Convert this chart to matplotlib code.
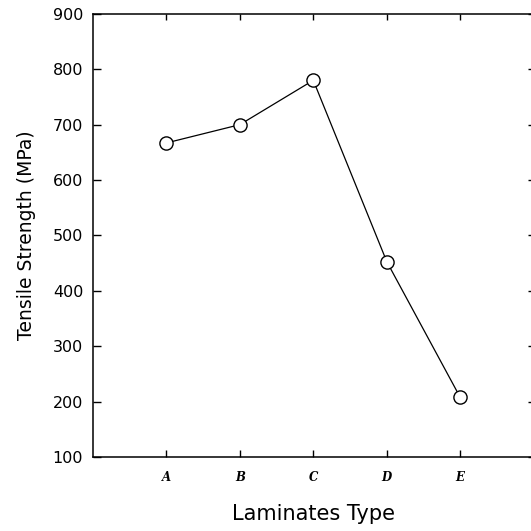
import matplotlib

matplotlib.use("Agg")
import matplotlib.pyplot as plt

# laminate types and measured tensile strength (MPa)
laminates = ["A", "B", "C", "D", "E"]
strength = [667, 700, 780, 453, 208]
yticks = [100, 200, 300, 400, 500, 600, 700, 800, 900]

plt.rcParams["font.family"] = ["DejaVu Sans"]

fig = plt.figure(figsize=(5.31, 5.31), dpi=100)
ax = fig.add_axes([0.175, 0.139, 0.83, 0.835])

xs = list(range(1, len(laminates) + 1))
ax.plot(xs, strength, color="black", lw=0.9, marker="o", ms=9.5,
        mfc="white", mec="black", mew=1.0, zorder=3)

ax.set_xlim(0, 6)
ax.set_ylim(100, 900)
ax.set_yticks(yticks)
ax.set_xticks(xs)
ax.set_xticklabels(laminates, family="DejaVu Serif", fontweight="bold",
                   fontstyle="italic", fontsize=8.5)
ax.tick_params(axis="y", direction="in", length=6, width=1, labelsize=11.5,
               pad=7, right=True)
ax.tick_params(axis="x", direction="in", length=5, width=1, pad=10, top=True)
ax.tick_params(which="major", right=True, top=True)
for t in ax.yaxis.get_ticklines()[1::2] + ax.xaxis.get_ticklines()[1::2]:
    t.set_markersize(4)
ax.spines["right"].set_visible(False)
for s in ("left", "top", "bottom"):
    ax.spines[s].set_linewidth(1.1)

ax.set_ylabel("Tensile Strength (MPa)", fontsize=13.5, labelpad=12)
ax.set_xlabel("Laminates Type", fontsize=15, labelpad=14)

fig.savefig("out.png", dpi=100)
